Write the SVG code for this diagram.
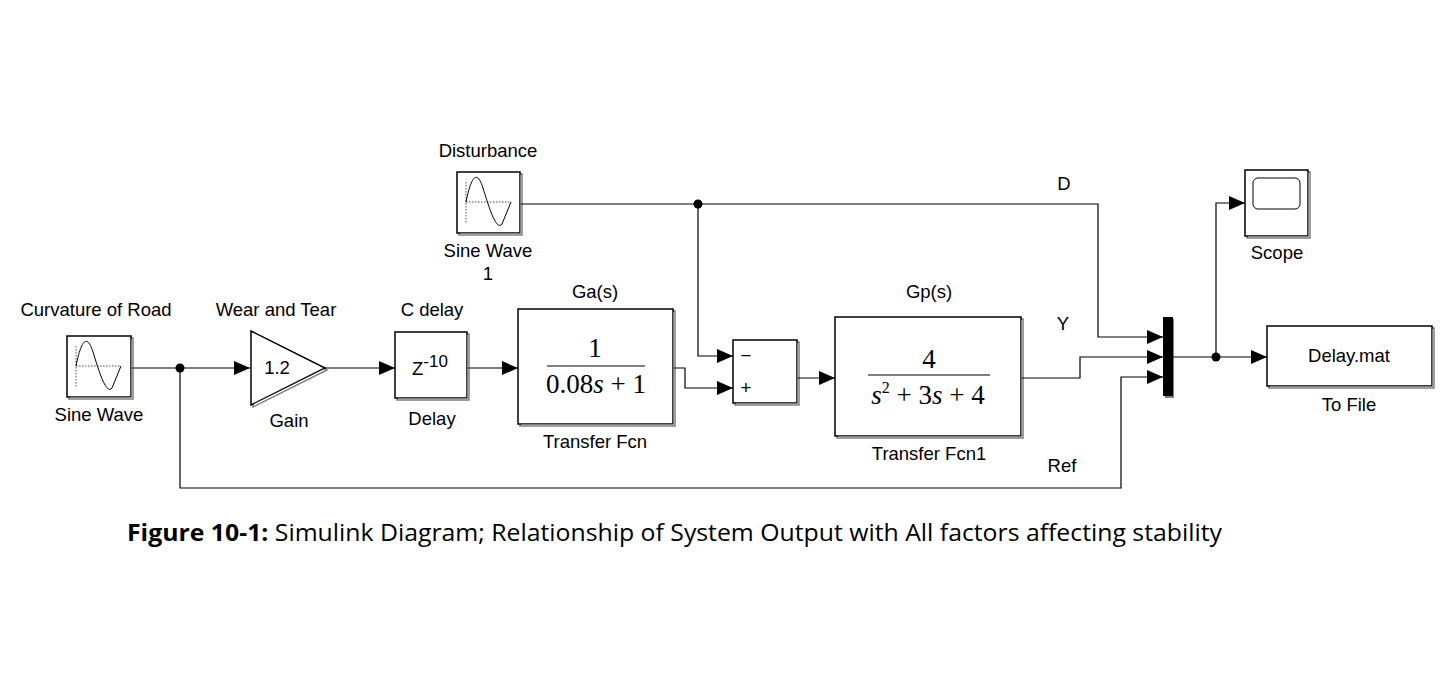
<svg xmlns="http://www.w3.org/2000/svg" width="1441" height="693" viewBox="0 0 1441 693">
<defs>
<marker id="a" markerWidth="16" markerHeight="14" refX="16" refY="7" orient="auto" markerUnits="userSpaceOnUse"><path d="M0,0 L16,7 L0,14 Z" fill="#000"/></marker>
<filter id="sh"><feOffset dx="2" dy="2"/><feComponentTransfer><feFuncA type="linear" slope="0.5"/></feComponentTransfer><feMerge><feMergeNode/><feMergeNode in="SourceGraphic"/></feMerge></filter>
</defs>
<style>
.b{fill:#fff;stroke:#000;stroke-width:1.5;filter:url(#sh)}
.l{fill:none;stroke:#000;stroke-width:1.2}
.t{font-family:"Liberation Sans",Arial,sans-serif;font-size:18.5px;text-anchor:middle}
.m{font-family:"Liberation Serif",serif;font-size:27px;text-anchor:middle}
.w{fill:none;stroke:#000;stroke-width:1}
.d{fill:none;stroke:#000;stroke-width:0.7;stroke-dasharray:1.5 1.5}
</style>
<rect width="1441" height="693" fill="#fff"/>
<g id="connectors">
<path class="l" d="M131,368 H250" marker-end="url(#a)"/>
<path class="l" d="M325,368 H395" marker-end="url(#a)"/>
<path class="l" d="M467,368 H518" marker-end="url(#a)"/>
<path class="l" d="M673,368 H685 V388 H733" marker-end="url(#a)"/>
<path class="l" d="M797,378 H835" marker-end="url(#a)"/>
<path class="l" d="M520,204 H1098 V337 H1163" marker-end="url(#a)"/>
<path class="l" d="M698,204 V356 H733" marker-end="url(#a)"/>
<path class="l" d="M1021,378 H1080 V357 H1163" marker-end="url(#a)"/>
<path class="l" d="M180,368 V488 H1121 V377 H1163" marker-end="url(#a)"/>
<path class="l" d="M1173,357 H1267" marker-end="url(#a)"/>
<path class="l" d="M1216,357 V203 H1245" marker-end="url(#a)"/>
<circle cx="180" cy="368" r="4.5"/>
<circle cx="698" cy="204" r="4.5"/>
<circle cx="1216" cy="357" r="4.5"/>
<text class="t" x="1064" y="190">D</text>
<text class="t" x="1063" y="330">Y</text>
<text class="t" x="1062" y="472">Ref</text>
</g>
<g id="sine">
<rect class="b" x="67" y="336" width="64" height="61"/>
<path class="d" d="M76,366 H121 M76,346 V388"/>
<path class="w" d="M76,366 C82,336 88,336 93,352 S106,396 112,388 L121,366"/>
<text class="t" x="96" y="316">Curvature of Road</text>
<text class="t" x="99" y="421">Sine Wave</text>
</g>
<g id="gain">
<path class="b" d="M251,331 L325,368 L251,405 Z"/>
<text class="t" x="277" y="374" font-size="16">1.2</text>
<text class="t" x="276" y="316">Wear and Tear</text>
<text class="t" x="289" y="427">Gain</text>
</g>
<g id="delay">
<rect class="b" x="395" y="332" width="72" height="66"/>
<text class="t" x="430" y="375" font-size="21">Z<tspan font-size="17" dy="-8">-10</tspan></text>
<text class="t" x="432" y="316">C delay</text>
<text class="t" x="432" y="425">Delay</text>
</g>
<g id="tf">
<rect class="b" x="518" y="309" width="155" height="115"/>
<text class="m" x="595" y="357">1</text>
<path class="l" d="M547,366 H645" stroke-width="2"/>
<text class="m" x="596" y="393">0.08<tspan font-style="italic">s</tspan> + 1</text>
<text class="t" x="595" y="298">Ga(s)</text>
<text class="t" x="595" y="448">Transfer Fcn</text>
</g>
<g id="dist">
<rect class="b" x="457" y="172" width="63" height="61"/>
<path class="d" d="M466,202 H511 M466,182 V224"/>
<path class="w" d="M466,202 C472,172 478,172 483,188 S496,232 502,224 L511,202"/>
<text class="t" x="488" y="157">Disturbance</text>
<text class="t" x="488" y="257">Sine Wave</text>
<text class="t" x="488" y="280">1</text>
</g>
<g id="sum">
<rect class="b" x="733" y="340" width="64" height="63"/>
<text class="t" x="746" y="362" font-size="14">−</text>
<text class="t" x="746" y="394" font-size="14">+</text>
</g>
<g id="tf1">
<rect class="b" x="835" y="317" width="186" height="119"/>
<text class="m" x="929" y="368">4</text>
<path class="l" d="M868,375 H990" stroke-width="2"/>
<text class="m" x="928" y="404"><tspan font-style="italic">s</tspan><tspan font-size="16" dy="-11">2</tspan><tspan dy="11"> + 3</tspan><tspan font-style="italic">s</tspan> + 4</text>
<text class="t" x="929" y="298">Gp(s)</text>
<text class="t" x="929" y="460">Transfer Fcn1</text>
</g>
<g id="mux">
<rect x="1163" y="317" width="10" height="79" fill="#000" filter="url(#sh)"/>
</g>
<g id="scope">
<rect class="b" x="1245" y="170" width="63" height="66"/>
<rect x="1253" y="178" width="47" height="31" rx="5" fill="none" stroke="#000"/>
<text class="t" x="1277" y="259">Scope</text>
</g>
<g id="tofile">
<rect class="b" x="1267" y="326" width="165" height="60"/>
<text class="t" x="1349" y="362" font-size="21">Delay.mat</text>
<text class="t" x="1349" y="411">To File</text>
</g>
<text x="127" y="541" font-family="'Open Sans','Liberation Sans',sans-serif" font-size="23" textLength="1095" lengthAdjust="spacingAndGlyphs"><tspan font-weight="bold">Figure 10-1:</tspan> Simulink Diagram; Relationship of System Output with All factors affecting stability</text>
</svg>
